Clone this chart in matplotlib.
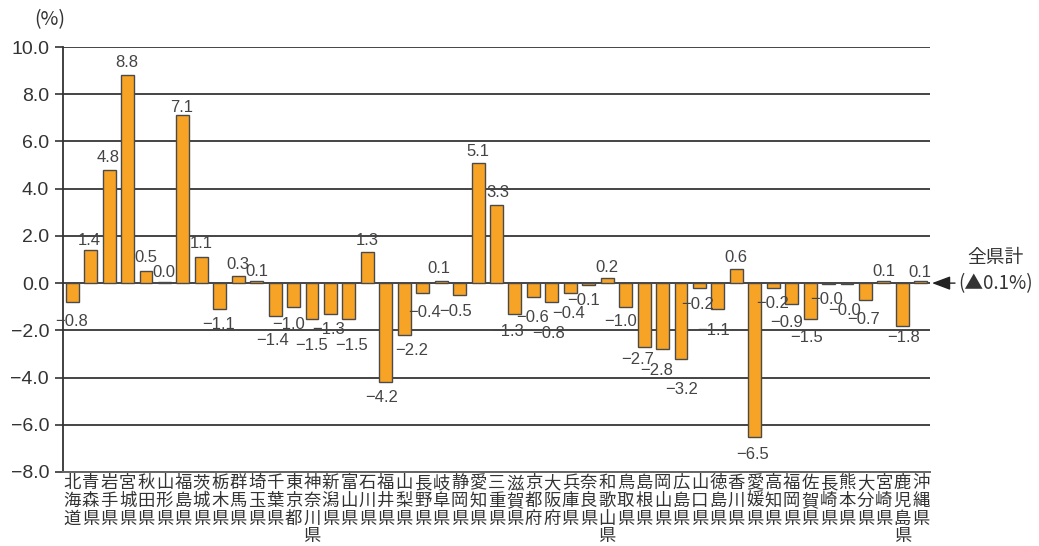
import matplotlib
matplotlib.use("Agg")
import matplotlib.pyplot as plt
import matplotlib.transforms as mtransforms

prefectures = ["北海道", "青森県", "岩手県", "宮城県", "秋田県", "山形県", "福島県", "茨城県",
               "栃木県", "群馬県", "埼玉県", "千葉県", "東京都", "神奈川県", "新潟県", "富山県",
               "石川県", "福井県", "山梨県", "長野県", "岐阜県", "静岡県", "愛知県", "三重県",
               "滋賀県", "京都府", "大阪府", "兵庫県", "奈良県", "和歌山県", "鳥取県", "島根県",
               "岡山県", "広島県", "山口県", "徳島県", "香川県", "愛媛県", "高知県", "福岡県",
               "佐賀県", "長崎県", "熊本県", "大分県", "宮崎県", "鹿児島県", "沖縄県"]
values = [-0.8, 1.4, 4.8, 8.8, 0.5, 0.04, 7.1, 1.1,
          -1.1, 0.3, 0.1, -1.4, -1.0, -1.5, -1.3, -1.5,
          1.3, -4.2, -2.2, -0.4, 0.1, -0.5, 5.1, 3.3,
          -1.3, -0.6, -0.8, -0.4, -0.1, 0.2, -1.0, -2.7,
          -2.8, -3.2, -0.2, -1.1, 0.6, -6.5, -0.2, -0.9,
          -1.5, -0.04, -0.04, -0.7, 0.1, -1.8, 0.1]
value_labels = ["−0.8", "1.4", "4.8", "8.8", "0.5", "0.0", "7.1", "1.1",
                "−1.1", "0.3", "0.1", "−1.4", "−1.0", "−1.5", "−1.3", "−1.5",
                "1.3", "−4.2", "−2.2", "−0.4", "0.1", "−0.5", "5.1", "3.3",
                "−1.3", "−0.6", "−0.8", "−0.4", "−0.1", "0.2", "−1.0", "−2.7",
                "−2.8", "−3.2", "−0.2", "−1.1", "0.6", "−6.5", "−0.2", "−0.9",
                "−1.5", "−0.0", "−0.0", "−0.7", "0.1", "−1.8", "0.1"]
y_ticks = [-8.0, -6.0, -4.0, -2.0, 0.0, 2.0, 4.0, 6.0, 8.0, 10.0]
y_unit = "(%)"
total_title = "全県計"
total_value = "(▲0.1%)"

# label placement nudges in pixels: (dx, distance of label centre from bar end)
label_nudges = [(-1, 19), (-1, 10), (-1, 12), (-1, 13), (0, 14), (-1, 10), (-1, 8), (0, 14),
                (-1, 15), (0, 12), (0, 9), (-3, 24), (-5, 18), (0, 27), (-2, 16), (3, 27),
                (0, 12), (-4, 15), (7, 15), (2, 20), (-2, 12), (-4, 17), (0, 11), (1, 13),
                (-7, 18), (-1, 20), (-3, 31), (-2, 21), (-5, 15), (0, 11), (-5, 15), (-6, 13),
                (-6, 21), (1, 31), (-2, 17), (-4, 21), (0, 11), (-2, 18), (-1, 16), (-5, 18),
                (-4, 19), (-2, 15), (-2, 26), (-2, 20), (0, 9), (1, 12), (-1, 8)]

CJK = ["Noto Sans CJK JP", "DejaVu Sans"]
NUM = ["Liberation Sans Narrow", "Liberation Sans", "DejaVu Sans"]
plt.rcParams["font.family"] = CJK

W, H = 1039, 546
PT = 0.72  # points per pixel at dpi 100
fig = plt.figure(figsize=(W / 100, H / 100), dpi=100)
L, R, T, B = 63, 930, 47, 472
ax = fig.add_axes([L / W, 1 - B / H, (R - L) / W, (B - T) / H])

x = list(range(len(values)))
ax.bar(x, values, width=0.70, color="#F7A325", edgecolor="#4a4a4a", linewidth=1.0, zorder=3)

ax.set_xlim(-0.5, len(values) - 0.5)
ax.set_ylim(-8, 10)
ax.set_yticks(y_ticks)
ax.set_yticklabels([f"{t:.1f}".replace("-", "−") for t in y_ticks],
                   fontsize=14, color="#333333", family=["Liberation Sans", "DejaVu Sans"])
ax.tick_params(axis="y", length=6, width=1.2, color="#333333", pad=4)
ax.set_xticks([])
ax.yaxis.grid(True, color="#444444", linewidth=1.4, zorder=1)
for s in ["top", "right"]:
    ax.spines[s].set_visible(False)
ax.spines["left"].set_color("#333333")
ax.spines["left"].set_linewidth(1.3)
ax.spines["bottom"].set_color("#666666")
ax.spines["bottom"].set_linewidth(1.4)
ax.spines["bottom"].set_zorder(4)

# value labels
for xi, v, lab, (dx, dy) in zip(x, values, value_labels, label_nudges):
    off_y = dy * PT if v >= 0 else -dy * PT
    ax.annotate(lab, xy=(xi, v), xytext=(dx * PT, off_y), textcoords="offset points",
                ha="center", va="center", fontsize=12, color="#444444", family=NUM, zorder=5)

# vertical category labels
trans = mtransforms.blended_transform_factory(ax.transData, ax.transAxes)
for xi, name in zip(x, prefectures):
    for j, ch in enumerate(name):
        ax.annotate(ch, xy=(xi, 0), xycoords=trans, xytext=(0, -(11 + j * 17.8) * PT),
                    textcoords="offset points", ha="center", va="center",
                    fontsize=12.5, color="#333333", annotation_clip=False)

# unit
fig.text(50 / W, 1 - 20 / H, y_unit, ha="center", va="center", fontsize=14, color="#333333")

# total annotation
fig.text(995 / W, 1 - 258 / H, total_title, ha="center", va="center", fontsize=13.5, color="#333333")
fig.text(996 / W, 1 - 284 / H, total_value, ha="center", va="center", fontsize=13.5, color="#333333")
trans2 = mtransforms.blended_transform_factory(ax.transAxes, ax.transData)
ax.annotate("", xy=(1 + 2 / (R - L), 0), xycoords=trans2,
            xytext=(1 + 25 / (R - L), 0), textcoords=trans2,
            arrowprops=dict(arrowstyle="-|>,head_length=0.8,head_width=0.3", color="#222222",
                            lw=1.0, mutation_scale=14, shrinkA=0, shrinkB=0),
            annotation_clip=False)

fig.savefig("out.png", dpi=100)
